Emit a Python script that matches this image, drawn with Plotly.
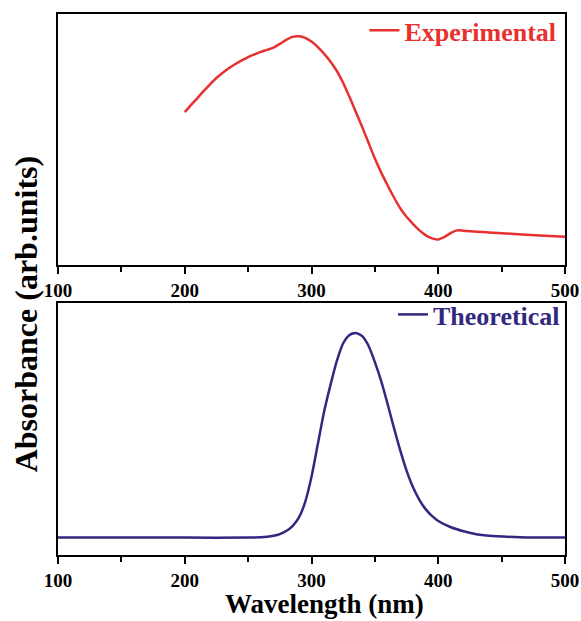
import plotly.graph_objects as go
from plotly.subplots import make_subplots

# ---- data ----
exp_wl = [200, 205, 210, 215, 220, 225, 230, 235, 240, 245, 250, 255, 260, 265, 270, 275, 280,
          285, 290, 295, 300, 305, 310, 315, 320, 325, 330, 335, 340, 345, 350, 355, 360, 365,
          370, 375, 380, 385, 390, 395, 400, 405, 410, 415, 420, 430, 440, 460, 480, 500]
exp_abs = [0.609, 0.638, 0.665, 0.694, 0.720, 0.745, 0.766, 0.785, 0.801, 0.815, 0.828, 0.839,
           0.849, 0.857, 0.866, 0.881, 0.897, 0.909, 0.911, 0.905, 0.890, 0.868, 0.841, 0.810,
           0.773, 0.725, 0.669, 0.610, 0.550, 0.487, 0.424, 0.368, 0.318, 0.270, 0.226, 0.192,
           0.164, 0.139, 0.119, 0.106, 0.102, 0.112, 0.128, 0.138, 0.137, 0.133, 0.130, 0.124,
           0.118, 0.113]

th_wl = [100, 150, 200, 250, 260, 265, 270, 275, 280, 285, 290, 295, 300, 305, 310, 315, 320,
         325, 330, 335, 340, 345, 350, 355, 360, 365, 370, 375, 380, 385, 390, 395, 400, 410,
         420, 430, 440, 460, 480, 500]
th_abs = [0.069, 0.069, 0.069, 0.069, 0.070, 0.072, 0.076, 0.083, 0.095, 0.115, 0.148, 0.21,
          0.31, 0.44, 0.57, 0.675, 0.77, 0.84, 0.873, 0.881, 0.868, 0.83, 0.765, 0.69, 0.60,
          0.505, 0.415, 0.335, 0.27, 0.22, 0.182, 0.155, 0.135, 0.11, 0.094, 0.082, 0.076,
          0.071, 0.069, 0.069]

x_ticks = [100, 200, 300, 400, 500]
names = ["Experimental", "Theoretical"]
RED = "#E8302F"
BLUE = "#33287F"
FONT = "Liberation Serif"

fig = make_subplots(rows=2, cols=1, vertical_spacing=0.07)

fig.add_trace(go.Scatter(x=exp_wl, y=exp_abs, mode="lines", name=names[0],
                         line=dict(color=RED, width=2.5, shape="spline", smoothing=0.7),
                         legend="legend"), row=1, col=1)
fig.add_trace(go.Scatter(x=th_wl, y=th_abs, mode="lines", name=names[1],
                         line=dict(color=BLUE, width=2.5, shape="spline", smoothing=0.6),
                         legend="legend2"), row=2, col=1)

top_dom = [0.536, 1.0]
bot_dom = [0.0, 0.466]

xaxis_common = dict(range=[100, 500], tickvals=x_ticks, ticks="outside", ticklen=7, tickwidth=2,
                    tickcolor="black", showline=True, linewidth=2, linecolor="black", mirror=True,
                    showgrid=False, zeroline=False, automargin=False,
                    tickfont=dict(family=FONT, size=19, color="black", weight="bold"),
                    minor=dict(dtick=50, tick0=100, ticks="outside", ticklen=5, tickwidth=2,
                               tickcolor="black", showgrid=False))
yaxis_common = dict(range=[0, 1], showticklabels=False, ticks="", showline=True, linewidth=2,
                    linecolor="black", mirror=True, showgrid=False, zeroline=False,
                    automargin=False)

fig.update_layout(
    width=581, height=621,
    margin=dict(l=58, r=16, t=14, b=66, autoexpand=False),
    paper_bgcolor="white", plot_bgcolor="white",
    xaxis=dict(**xaxis_common), xaxis2=dict(**xaxis_common),
    yaxis=dict(**yaxis_common, domain=top_dom), yaxis2=dict(**yaxis_common, domain=bot_dom),
    legend=dict(x=0.993, y=1.013, xanchor="right", yanchor="top", bgcolor="rgba(0,0,0,0)",
                font=dict(family=FONT, size=26, color=RED, weight="bold")),
    legend2=dict(x=1.0, y=bot_dom[1] + 0.022, xanchor="right", yanchor="top",
                 bgcolor="rgba(0,0,0,0)",
                 font=dict(family=FONT, size=26, color=BLUE, weight="bold")),
    showlegend=True,
)

fig.add_annotation(text="Wavelength (nm)", xref="paper", yref="paper", x=0.525, y=-0.061,
                   xanchor="center", yanchor="top", showarrow=False, borderpad=0,
                   font=dict(family=FONT, size=27, color="black", weight="bold"))
fig.add_annotation(text="Absorbance (arb.units)", xref="paper", yref="paper", x=-0.063, y=0.445,
                   xanchor="center", yanchor="middle", textangle=-90, showarrow=False,
                   font=dict(family=FONT, size=32, color="black", weight="bold"))

fig.write_html("out.html")
